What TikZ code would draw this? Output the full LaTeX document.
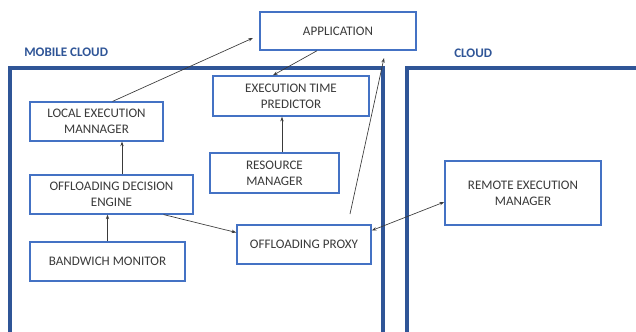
\documentclass[tikz,border=0pt]{standalone}
\usepackage{fontspec}
\setmainfont{Carlito}
\usetikzlibrary{arrows.meta,calc}

\definecolor{boxblue}{HTML}{4472C4}
\definecolor{frameblue}{HTML}{2F5597}
\definecolor{txtgray}{HTML}{3A3A3A}

\tikzset{
    block/.style={draw=boxblue, line width=1.1pt, fill=white, text=txtgray,
        align=center, inner sep=0pt, font=\fontsize{9.8}{12}\selectfont},
    frame/.style={draw=frameblue, line width=2.3pt},
    title/.style={text=frameblue, font=\fontsize{9.8}{11}\selectfont\bfseries, anchor=west, inner sep=0pt},
    arr/.style={-{Stealth[length=3.5pt,width=2.5pt]}, draw=txtgray, line width=0.5pt},
    darr/.style={{Stealth[length=3.5pt,width=2.5pt]}-{Stealth[length=3.5pt,width=2.5pt]}, draw=txtgray, line width=0.5pt}
}

\begin{document}
\begin{tikzpicture}[x=0.75pt, y=-0.75pt]
    \useasboundingbox (0,0) rectangle (636,332);
    \clip (0,0) rectangle (636,332);

    % Rahmen:
    \draw[frame] (10,345) -- (10,68) -- (383,68) -- (383,345); % mobile cloud
    \draw[frame] (407,345) -- (407,68) -- (650,68); % cloud
    \node[title] (mclabel) at (24,52) {MOBILE CLOUD};
    \node[title] (clabel) at (454,53) {CLOUD};

    % Boxen:
    \node[block, minimum width=117pt, minimum height=28.5pt] (app) at (338,31) {APPLICATION};
    \node[block, minimum width=100pt, minimum height=29pt] (lem) at (96.5,121.5) {LOCAL EXECUTION\\MANNAGER};
    \node[block, minimum width=117pt, minimum height=30pt] (etp) at (291,96) {EXECUTION TIME\\PREDICTOR};
    \node[block, minimum width=97pt, minimum height=30pt] (rm) at (274.5,173) {RESOURCE\\MANAGER};
    \node[block, minimum width=122pt, minimum height=29pt] (ode) at (111.5,194.5) {OFFLOADING DECISION\\ENGINE};
    \node[block, minimum width=116pt, minimum height=29pt] (bm) at (107.5,261.5) {BANDWICH MONITOR};
    \node[block, minimum width=100.5pt, minimum height=29pt] (op) at (304,244.5) {OFFLOADING PROXY};
    \node[block, minimum width=117pt, minimum height=48pt] (rem) at (523,193) {REMOTE EXECUTION\\MANAGER};

    % freie Enden:
    \coordinate (appin) at (253,38);
    \coordinate (appin2) at (384,58);
    \coordinate (optop) at (350,214);

    % Pfeile:
    \draw[arr] ($(lem.north)+(16,0)$) -- (appin);
    \draw[arr] ($(app.south)+(-21,0)$) -- ($(etp.north)+(-18,0)$);
    \draw[arr] ($(rm.north)+(7.5,0)$) -- ($(etp.south)+(-9,0)$);
    \draw[arr] ($(ode.north)+(10.5,0)$) -- ($(lem.south)+(25.5,0)$);
    \draw[arr] (bm.north) -- (bm.north |- ode.south);
    \draw[arr] ($(ode.south east)+(-30,0)$) -- ($(op.west)+(0,-12)$);
    \draw[arr] (optop) -- (appin2);
    \draw[darr] ($(op.east)+(0,-14)$) -- ($(rem.west)+(0,9)$);
\end{tikzpicture}
\end{document}
